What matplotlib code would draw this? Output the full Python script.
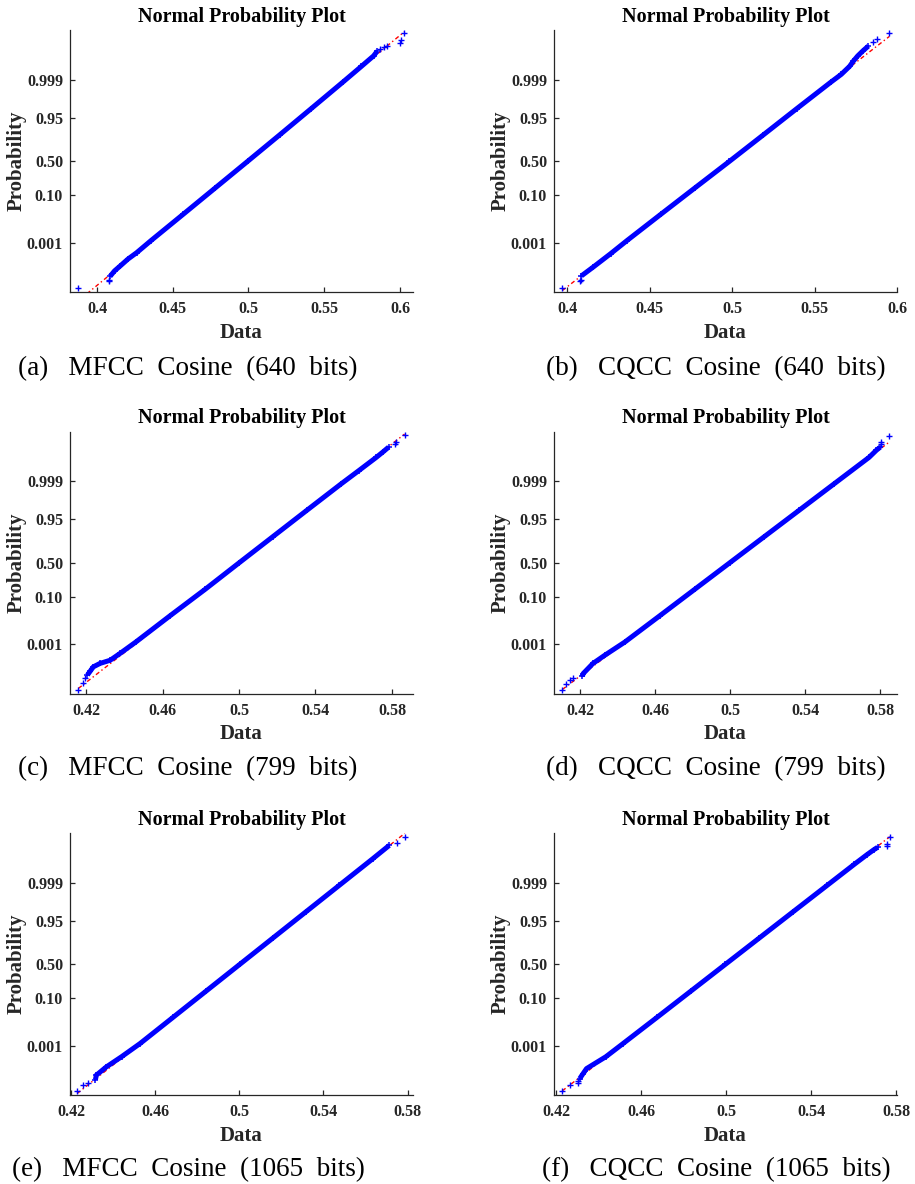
import matplotlib
matplotlib.use("Agg")
import matplotlib.pyplot as plt
from statistics import NormalDist

# probability ticks on the normal-quantile axis
prob_ticks = [0.001, 0.10, 0.50, 0.95, 0.999]
prob_labels = ["0.001", "0.10", "0.50", "0.95", "0.999"]

captions = ["(a)   MFCC  Cosine  (640  bits)", "(b)   CQCC  Cosine  (640  bits)",
            "(c)   MFCC  Cosine  (799  bits)", "(d)   CQCC  Cosine  (799  bits)",
            "(e)   MFCC  Cosine  (1065  bits)", "(f)   CQCC  Cosine  (1065  bits)"]

# sorted scores (x) against their normal quantile (q); dense body of each sample
q_a = [-4.36, -4.15, -3.98, -3.7, -3.46, -3.0, -2.0, -1.0, 0.0, 1.0, 2.0, 3.0, 3.6, 4.0, 4.18]
x_a = [0.4086, 0.4116, 0.4150, 0.4205, 0.4262, 0.4357, 0.4570, 0.4782, 0.4994, 0.5205,
       0.5414, 0.5622, 0.5745, 0.5826, 0.5850]
q_b = [-4.34, -4.0, -3.5, -3.0, -2.0, -1.0, 0.0, 1.0, 2.0, 3.0, 3.3, 3.6, 3.8, 4.0, 4.2, 4.37]
x_b = [0.4085, 0.4158, 0.4262, 0.4362, 0.4568, 0.4775, 0.4983, 0.5188, 0.5392, 0.5598,
       0.5662, 0.5712, 0.5735, 0.5762, 0.5795, 0.5826]
q_c = [-4.25, -4.1, -3.94, -3.81, -3.69, -3.43, -3.0, -2.0, -1.0, 0.0, 1.0, 2.0, 3.0, 3.5, 4.0, 4.2, 4.39]
x_c = [0.4207, 0.4222, 0.4238, 0.4273, 0.4326, 0.4378, 0.4460, 0.4640, 0.4823, 0.5000,
       0.5178, 0.5356, 0.5535, 0.5627, 0.5718, 0.5752, 0.5783]
q_d = [-4.30, -4.2, -3.81, -3.5, -3.0, -2.0, -1.0, 0.0, 1.0, 2.0, 3.0, 4.0, 4.27, 4.39]
x_d = [0.4211, 0.4214, 0.4267, 0.4330, 0.4437, 0.4624, 0.4810, 0.4996, 0.5182, 0.5368,
       0.5554, 0.5740, 0.5779, 0.5800]
q_e = [-4.37, -4.2, -3.89, -3.5, -3.0, -2.0, -1.0, 0.0, 1.0, 2.0, 3.0, 4.0, 4.51]
x_e = [0.4316, 0.4320, 0.4367, 0.4440, 0.4528, 0.4686, 0.4844, 0.5002, 0.5160, 0.5318,
       0.5476, 0.5634, 0.5713]
q_f = [-4.33, -4.15, -3.95, -3.5, -3.0, -2.0, -1.0, 0.0, 1.0, 2.0, 3.0, 3.8, 4.16, 4.34, 4.44]
x_f = [0.4310, 0.4325, 0.4342, 0.4433, 0.4514, 0.4675, 0.4835, 0.4995, 0.5155, 0.5315,
       0.5475, 0.5603, 0.5662, 0.5693, 0.5712]

# isolated extreme samples
tq_a = [-4.78, -4.55, -4.48, 4.25, 4.32, 4.38, 4.5, 4.6, 4.85]
tx_a = [0.3877, 0.4080, 0.4082, 0.5870, 0.5895, 0.5915, 0.6000, 0.6005, 0.6028]
tq_b = [-4.79, -4.53, -4.48, 4.52, 4.65, 4.85]
tx_b = [0.3970, 0.4075, 0.4080, 0.5857, 0.5877, 0.5954]
tq_c = [-4.82, -4.55, -4.38, 4.52, 4.58, 4.84]
tx_c = [0.4160, 0.4183, 0.4195, 0.5818, 0.5822, 0.5866]
tq_d = [-4.83, -4.58, -4.45, -4.35, 4.5, 4.6, 4.82]
tx_d = [0.4104, 0.4125, 0.4143, 0.4161, 0.5802, 0.5802, 0.5846]
tq_e = [-4.81, -4.58, -4.49, 4.6, 4.82]
tx_e = [0.4229, 0.4259, 0.4279, 0.5748, 0.5787]
tq_f = [-4.81, -4.58, -4.49, -4.43, 4.5, 4.55, 4.82]
tx_f = [0.4228, 0.4266, 0.4302, 0.4302, 0.5757, 0.5757, 0.5769]

# fitted normal reference line (mean, std) per sample
ref_mean = [0.4992, 0.4978, 0.5002, 0.4996, 0.5002, 0.4995]
ref_std = [0.0211, 0.0206, 0.0177, 0.0186, 0.0158, 0.0160]

xlims = [(0.3822, 0.6086), (0.3919, 0.6000), (0.4116, 0.5910),
         (0.4059, 0.5889), (0.4195, 0.5826), (0.4189, 0.5803)]
xticks_wide = [0.4, 0.45, 0.5, 0.55, 0.6]
xlabels_wide = ["0.4", "0.45", "0.5", "0.55", "0.6"]
xticks_narrow = [0.42, 0.46, 0.5, 0.54, 0.58]
xlabels_narrow = ["0.42", "0.46", "0.5", "0.54", "0.58"]

bodies = [(q_a, x_a), (q_b, x_b), (q_c, x_c), (q_d, x_d), (q_e, x_e), (q_f, x_f)]
tails = [(tq_a, tx_a), (tq_b, tx_b), (tq_c, tx_c), (tq_d, tx_d), (tq_e, tx_e), (tq_f, tx_f)]

W, H = 915, 1184
fig = plt.figure(figsize=(W / 100, H / 100), dpi=100)
serif = ["Liberation Serif", "DejaVu Serif"]
ink = "#262626"

col_left = [70, 554]
row_top = [30, 431.5, 833]
ax_w, ax_h = 343, 262
cap_x = [188, 716]
cap_y = [369, 769, 1170]

ytick_pos = [NormalDist().inv_cdf(p) for p in prob_ticks]

for i in range(6):
    r, c = divmod(i, 2)
    ax = fig.add_axes([col_left[c] / W, 1 - (row_top[r] + ax_h) / H, ax_w / W, ax_h / H])
    q, x = bodies[i]
    tq, tx = tails[i]

    # reference line spans the full data range
    lo = min(x + tx)
    hi = max(x + tx)
    mu, sd = ref_mean[i], ref_std[i]
    ax.plot([lo, hi], [(lo - mu) / sd, (hi - mu) / sd], color="red",
            linestyle=(0, (3, 2, 1, 2)), linewidth=1.0, zorder=1)

    ax.plot(x, q, color="blue", linewidth=3.6, solid_capstyle="butt", zorder=2)
    ax.plot(x, q, "+", color="blue", markersize=4.5, markeredgewidth=1.1, zorder=2)
    ax.plot(tx, tq, "+", color="blue", markersize=4.5, markeredgewidth=1.0, zorder=3)

    ax.set_xlim(*xlims[i])
    ax.set_ylim(-4.95, 4.98)
    if i < 2:
        ax.set_xticks(xticks_wide)
        ax.set_xticklabels(xlabels_wide)
    else:
        ax.set_xticks(xticks_narrow)
        ax.set_xticklabels(xlabels_narrow)
    ax.set_yticks(ytick_pos)
    ax.set_yticklabels(prob_labels)

    for s in ["top", "right"]:
        ax.spines[s].set_visible(False)
    for s in ["left", "bottom"]:
        ax.spines[s].set_color(ink)
        ax.spines[s].set_linewidth(0.9)
    ax.tick_params(direction="in", length=3.5, width=0.9, color=ink, labelcolor=ink)
    ax.tick_params(axis="x", pad=6.5)
    ax.tick_params(axis="y", pad=5)
    for lab in ax.get_xticklabels() + ax.get_yticklabels():
        lab.set_family(serif)
        lab.set_fontweight("bold")
        lab.set_fontsize(11.5)

    ax.set_title("Normal Probability Plot", family=serif, fontweight="bold",
                 fontsize=14.5, color="black", pad=6)
    ax.set_xlabel("Data", family=serif, fontweight="bold", fontsize=15, color=ink, labelpad=4)
    ax.set_ylabel("Probability", family=serif, fontweight="bold", fontsize=15, color=ink, labelpad=0)

    fig.text(cap_x[c] / W, 1 - cap_y[r] / H, captions[i], family=serif,
             fontsize=19.5, ha="center", va="center")

fig.savefig("out.png", dpi=100)
